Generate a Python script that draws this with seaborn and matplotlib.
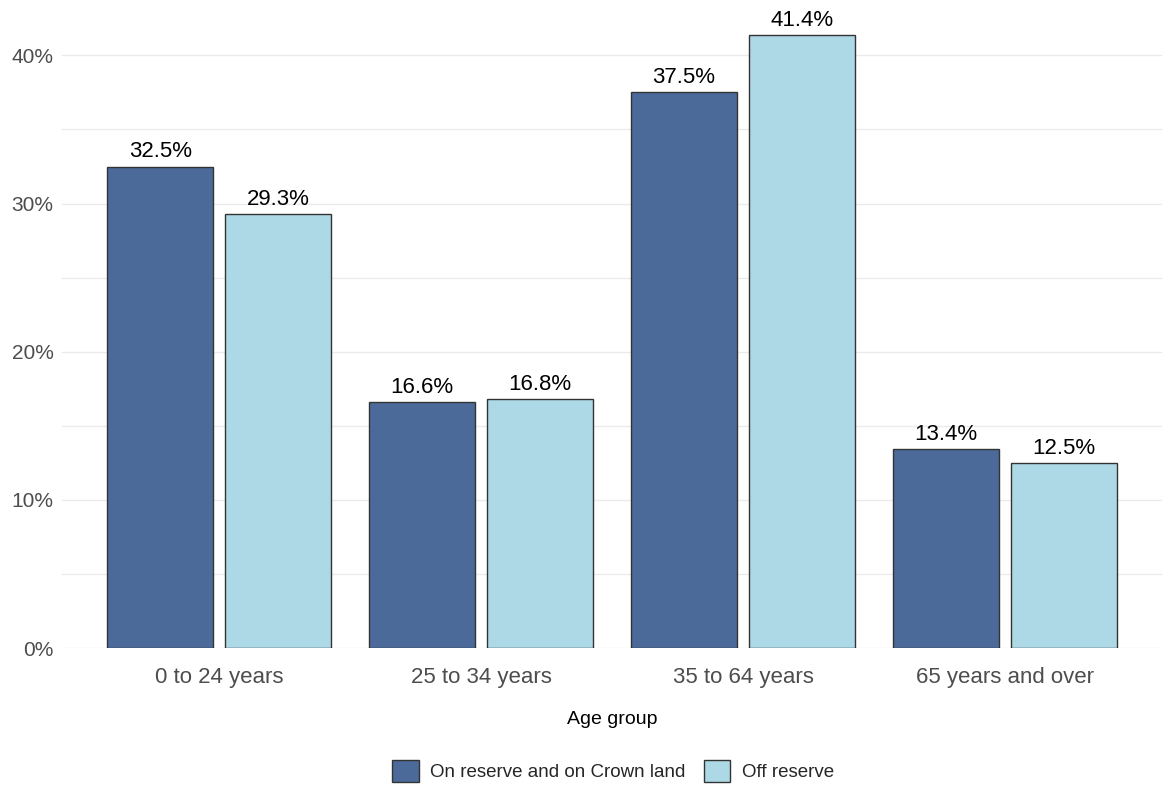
import pandas as pd
import numpy as np
import matplotlib.pyplot as plt
import seaborn as sns
from matplotlib.patches import Patch
from matplotlib.ticker import MultipleLocator, FuncFormatter

age_groups = ['0 to 24 years', '25 to 34 years', '35 to 64 years', '65 years and over']
on_reserve = [32.5, 16.6, 37.5, 13.4]
off_reserve = [29.3, 16.8, 41.4, 12.5]
series = ['On reserve and on Crown land', 'Off reserve']
colors = ['#4B6A9A', '#ADD8E6']

df = pd.DataFrame({
    'age': age_groups * 2,
    'pct': on_reserve + off_reserve,
    'where': [series[0]] * 4 + [series[1]] * 4,
})

sns.set_style('white')
plt.rcParams['font.family'] = ['Liberation Sans', 'DejaVu Sans']

fig = plt.figure(figsize=(11.7, 7.94), dpi=100)
ax = fig.add_axes([62 / 1170, 146 / 794, 1100 / 1170, 644 / 794])

sns.barplot(data=df, x='age', y='pct', hue='where', palette=colors, saturation=1,
            width=0.9, edgecolor='#333333', linewidth=1.0, ax=ax, legend=False,
            zorder=3)

# shrink bars to 90% of their dodge slot
for p in ax.patches:
    w = p.get_width()
    p.set_x(p.get_x() + w * 0.05)
    p.set_width(w * 0.9)

for cont in ax.containers:
    ax.bar_label(cont, labels=[f'{v:.1f}%' for v in cont.datavalues],
                 padding=3, fontsize=16, color='black')

ax.set_xlim(-0.6, 3.6)
ax.set_ylim(0, 43.47)
ax.yaxis.set_major_locator(MultipleLocator(10))
ax.yaxis.set_minor_locator(MultipleLocator(5))
ax.yaxis.set_major_formatter(FuncFormatter(lambda v, p: f'{v:.0f}%'))
ax.grid(axis='y', which='both', color='#EBEBEB', linewidth=1.0, zorder=0)
ax.set_axisbelow(True)
for s in ax.spines.values():
    s.set_visible(False)
ax.tick_params(axis='both', length=0, labelcolor='#4D4D4D')
ax.tick_params(axis='x', labelsize=16, pad=14)
ax.tick_params(axis='y', labelsize=15, pad=6)
ax.set_ylabel('')
ax.set_xlabel('Age group', fontsize=14, color='black', labelpad=16)

handles = [Patch(facecolor=c, edgecolor='#333333', linewidth=1.0) for c in colors]
fig.legend(handles, series, loc='center', bbox_to_anchor=(613 / 1170, 1 - 771 / 794),
           ncol=2, frameon=False, fontsize=13.5, handlelength=1.4, handleheight=1.35,
           handletextpad=0.6, columnspacing=1.0)

fig.savefig('out.png', dpi=100)
